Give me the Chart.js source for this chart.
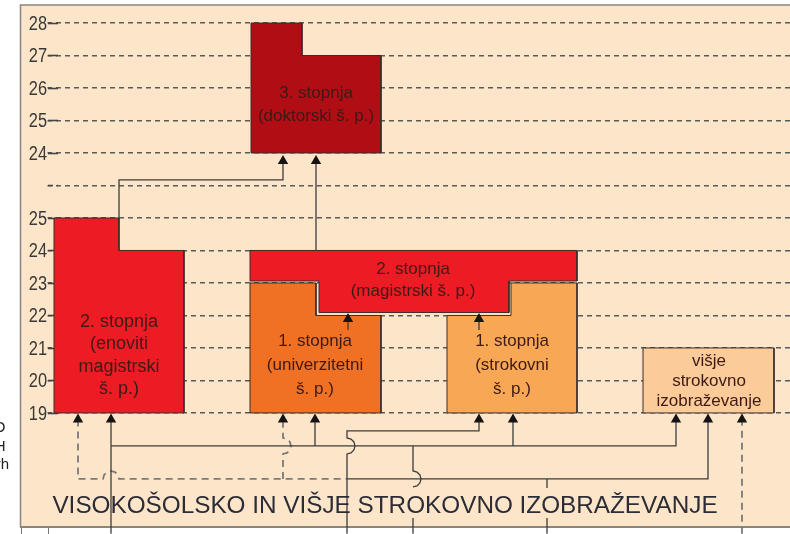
<!DOCTYPE html>
<html><head><meta charset="utf-8">
<script src="https://cdn.jsdelivr.net/npm/chart.js@4.4.0/dist/chart.umd.min.js"></script>
<style>html,body{margin:0;padding:0;background:#fff;overflow:hidden}canvas{display:block}</style>
</head><body>
<canvas id="c" width="790" height="534"></canvas>
<script>
// ---- axis (ages): lower block 19..25, gap, upper block 24..28 (shifted by UP) ----
const tickValues = [19,20,21,22,23,24,25,26,27,28,29,30,31];
const tickLabels = ['19','20','21','22','23','24','25','','24','25','26','27','28'];
const UP = 3;

// ---- boxes (x position, age) ----
const doktorskiX = [251,302,302,381,381,251,251];
const doktorskiY = [28,28,27,27,24,24,28];            // upper-block ages
const enovitiX = [54,119,119,184,184,54,54];
const enovitiY = [25,25,24,24,19,19,25];
const magistrskiX = [250,577,577,509,509,319,319,250,250];
const magistrskiY = [24,24,23.06,23.06,22.09,22.09,23.06,23.06,24];
const univX = [250,316,316,381,381,250,250];
const univY = [23,23,22,22,19,19,23];
const strokX = [447,511,511,577,577,447,447];
const strokY = [22,22,23,23,19,19,22];
const visjeX = [643,774,774,643,643];
const visjeY = [21,21,19,19,21];

// ---- connectors [x, axis value] ----
const solidLinks = [
  [[119,25],[119,26.17],[283,26.17],[283,26.75]],
  [[316,24],[316,26.75]],
  [[348,21.55],[348,21.89]],
  [[479,21.55],[479,21.89]],
  [[111,15.28],[111,18.8]],
  [[111,17.985],[676,17.985],[676,18.8]],
  [[315,17.985],[315,18.8]],
  [[513,17.985],[513,18.8]],
  [[413,17.985],[413,17.215],[417,17.182],[419.9,17.092],[421,16.969],[419.9,16.846],[417,16.756],[413,16.723]],
  [[413,15.77],[413,15.28]],
  [[347,15.28],[347,17.739],[351,17.772],[353.9,17.862],[355,17.985],[353.9,18.108],[351,18.198],[347,18.231],[347,18.446],[479,18.446],[479,18.8]],
  [[347,16.969],[708,16.969],[708,18.8]],
  [[547,16.969],[547,16.69]],
  [[547,15.77],[547,15.28]]
];
const dashedLinks = [
  [[78,18.8],[78,16.969],[103,16.969],[104.1,17.092],[107,17.182],[111,17.215],[115,17.182],[117.9,17.092],[119,16.969],[347,16.969]],
  [[283,16.969],[283,17.739],[287,17.772],[289.9,17.862],[291,17.985],[289.9,18.108],[287,18.198],[283,18.231],[283,18.8]],
  [[742,15.28],[742,18.8]]
];
const arrowX = [283,316,348,479,78,111,283,315,479,513,676,708,742];
const arrowY = [26.75,26.75,21.89,21.89,18.8,18.8,18.8,18.8,18.8,18.8,18.8,18.8,18.8];

// ---- texts ----
const boxTexts = [
  {x:316, y:28.477, lh:23, size:17, lines:['3. stopnja','(doktorski š. p.)']},
  {x:119, y:20.77, lh:22.5, size:18, lines:['2. stopnja','(enoviti','magistrski','š. p.)']},
  {x:413, y:23.083, lh:21.5, size:17, lines:['2. stopnja','(magistrski š. p.)']},
  {x:315, y:20.458, lh:24, size:17, lines:['1. stopnja','(univerzitetni','š. p.)']},
  {x:512, y:20.458, lh:24, size:17, lines:['1. stopnja','(strokovni','š. p.)']},
  {x:709, y:19.97, lh:20, size:17, lines:['višje','strokovno','izobraževanje']}
];
const titleText = {x:385, y:15.92, text:'VISOKOŠOLSKO IN VIŠJE STROKOVNO IZOBRAŽEVANJE'};

const PEACH = '#FDE5CA';
const OUTLINE = '#3a2d2a';
function poly(xs, ys, fillColor, order, shift) {
  return {
    data: xs.map((x,i)=>({x:x, y:ys[i] + (shift||0)})),
    showLine:true, pointRadius:0, fill:'shape', backgroundColor:fillColor,
    borderColor:OUTLINE, borderWidth:1, tension:0, order:order, clip:false
  };
}
function link(pts, dashed) {
  return {
    data: pts.map(p=>({x:p[0], y:p[1]})),
    showLine:true, pointRadius:0, fill:false, tension:0, clip:false,
    borderColor: dashed ? '#7a7a7a' : '#3d3d3d',
    borderWidth: dashed ? 1.8 : 1.3,
    borderDash: dashed ? [7,5] : [],
    order: 50
  };
}

const datasets = [
  poly(doktorskiX, doktorskiY, '#B00D15', 100, UP),
  poly(enovitiX, enovitiY, '#ED1C24', 100),
  poly(univX, univY, '#F07123', 100),
  poly(strokX, strokY, '#F8A754', 100),
  poly(magistrskiX, magistrskiY, '#ED1C24', 99),
  poly(visjeX, visjeY, '#FBCB99', 100),
  ...solidLinks.map(p=>link(p,false)),
  ...dashedLinks.map(p=>link(p,true)),
  {
    data: arrowX.map((x,i)=>({x:x, y:arrowY[i]})),
    showLine:false, pointStyle:'triangle', pointRadius:6, pointBorderWidth:0,
    pointBackgroundColor:'#141414', pointBorderColor:'#141414', order:10, clip:false
  }
];

const LABEL_RIGHT = 47, TICK_START = 48, TICK_END = 58;

const panelPlugin = {
  id:'panel',
  beforeDraw(chart) {
    const ctx = chart.ctx, a = chart.chartArea;
    ctx.save();
    ctx.fillStyle = '#ffffff';
    ctx.fillRect(0,0,chart.width,chart.height);
    ctx.fillStyle = PEACH;
    ctx.fillRect(a.left, a.top, a.right-a.left, a.bottom-a.top);
    ctx.lineWidth = 1;
    ctx.strokeStyle = '#777';
    ctx.beginPath();
    ctx.moveTo(21.5, a.bottom); ctx.lineTo(21.5, chart.height);
    ctx.moveTo(48.5, a.bottom); ctx.lineTo(48.5, chart.height);
    ctx.stroke();
    // cropped neighbouring text
    ctx.fillStyle = '#222';
    ctx.font = '15px "Liberation Sans", Arial, sans-serif';
    ctx.textAlign = 'right';
    ctx.textBaseline = 'alphabetic';
    ctx.fillText('O', 5.5, 432);
    ctx.fillText('H', 5.5, 451);
    ctx.fillText('rh', 9, 469);
    ctx.restore();
  },
  beforeDatasetsDraw(chart) {
    // label gutter inside the panel, then solid tick marks and narrow tick labels
    const ctx = chart.ctx, a = chart.chartArea, ys = chart.scales.y;
    ctx.save();
    ctx.fillStyle = PEACH;
    ctx.fillRect(a.left, a.top, TICK_START - 0.5 - a.left, a.bottom - a.top);
    // panel border
    ctx.strokeStyle = '#8a8580';
    ctx.lineWidth = 1.5;
    ctx.beginPath();
    ctx.moveTo(a.left + 0.5, a.bottom); ctx.lineTo(a.left + 0.5, a.top); ctx.lineTo(chart.width, a.top);
    ctx.stroke();
    ctx.lineWidth = 2;
    ctx.beginPath(); ctx.moveTo(a.left, a.bottom); ctx.lineTo(chart.width, a.bottom); ctx.stroke();
    ys.ticks.forEach((t,i)=>{
      const py = Math.round(ys.getPixelForValue(t.value)) + 0.5;
      const lbl = tickLabels[i];
      ctx.strokeStyle = '#444';
      ctx.lineWidth = 1.6;
      ctx.setLineDash(lbl ? [] : [5,4]);
      ctx.beginPath(); ctx.moveTo(TICK_START, py); ctx.lineTo(TICK_END, py); ctx.stroke();
      ctx.setLineDash([]);
      if (!lbl) return;
      ctx.save();
      ctx.fillStyle = '#383838';
      ctx.font = '20px "Liberation Sans", Arial, sans-serif';
      ctx.textAlign = 'right';
      ctx.textBaseline = 'middle';
      ctx.translate(LABEL_RIGHT, py + 0.5);
      ctx.scale(0.82, 1);
      ctx.fillText(lbl, 0, 0);
      ctx.restore();
    });
    ctx.restore();
  }
};

const textPlugin = {
  id:'texts',
  afterDatasetsDraw(chart) {
    const ctx = chart.ctx, xs = chart.scales.x, ys = chart.scales.y;
    ctx.save();
    ctx.textAlign = 'center';
    ctx.textBaseline = 'middle';
    boxTexts.forEach(b=>{
      ctx.font = b.size + 'px "Liberation Sans", Arial, sans-serif';
      ctx.fillStyle = '#3d1a16';
      const cx = xs.getPixelForValue(b.x), cy = ys.getPixelForValue(b.y);
      const n = b.lines.length;
      b.lines.forEach((t,i)=>ctx.fillText(t, cx, cy + (i-(n-1)/2)*b.lh));
    });
    ctx.textBaseline = 'alphabetic';
    ctx.font = '24.3px "Liberation Sans", Arial, sans-serif';
    ctx.fillStyle = '#2c2c36';
    ctx.fillText(titleText.text, xs.getPixelForValue(titleText.x), ys.getPixelForValue(titleText.y));
    ctx.restore();
  }
};

new Chart(document.getElementById('c'), {
  type:'scatter',
  data:{datasets:datasets},
  options:{
    responsive:false, animation:false, events:[],
    layout:{autoPadding:false, padding:{top:5, bottom:7, left:0, right:0}},
    plugins:{legend:{display:false}, tooltip:{enabled:false}},
    scales:{
      x:{type:'linear', min:20, max:790, display:false},
      y:{
        type:'linear', min:15.49, max:31.554,
        afterBuildTicks:(s)=>{ s.ticks = tickValues.map(v=>({value:v})); },
        afterFit:(s)=>{ s.width = 20; s.paddingTop = 0; s.paddingBottom = 0; s.paddingLeft = 0; s.paddingRight = 0; },
        ticks:{ display:false, autoSkip:false, callback:(v,i)=>tickLabels[i] },
        grid:{ color:'#5a5a5a', lineWidth:1.4, drawTicks:false },
        border:{display:false, dash:[5,4]}
      }
    }
  },
  plugins:[panelPlugin, textPlugin]
});
</script>
</body></html>
